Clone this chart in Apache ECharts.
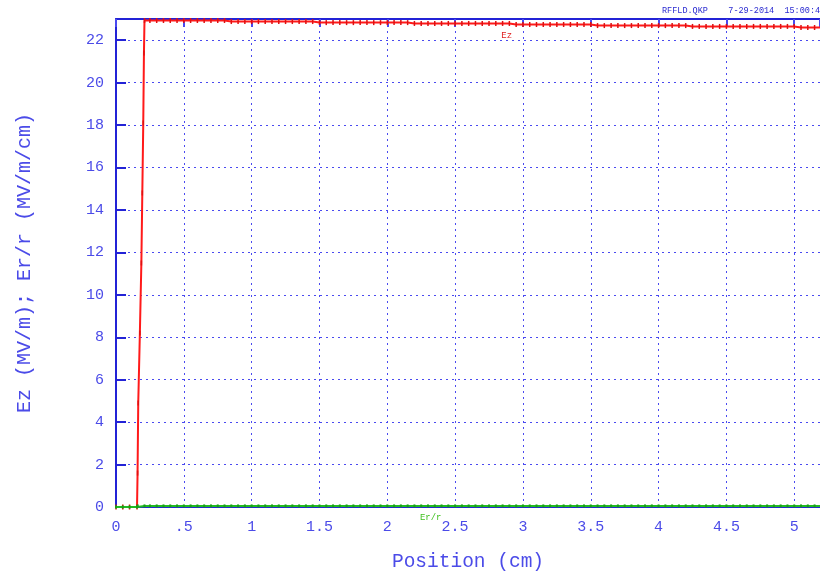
<!DOCTYPE html>
<html>
<head>
<meta charset="utf-8">
<script src="https://cdn.jsdelivr.net/npm/echarts@6/dist/echarts.min.js"></script>
<style>
  html, body { margin: 0; padding: 0; background: #fff; }
  #main { width: 820px; height: 574px; }
</style>
</head>
<body>
<div id="main"></div>
<script>
// positions (cm) where Ez was sampled
const ezPos = [
  0, 0.05, 0.1, 0.155, 0.159, 0.164, 0.176, 0.187, 0.194, 0.201, 0.206, 0.21,
  0.25, 0.3, 0.35, 0.4, 0.45, 0.5, 0.55, 0.6, 0.65, 0.7, 0.75, 0.8,
  0.85, 0.9, 0.95, 1, 1.05, 1.1, 1.15, 1.2, 1.25, 1.3, 1.35, 1.4, 1.45,
  1.5, 1.55, 1.6, 1.65, 1.7, 1.75, 1.8, 1.85, 1.9, 1.95, 2, 2.05, 2.1, 2.15,
  2.2, 2.25, 2.3, 2.35, 2.4, 2.45, 2.5, 2.55, 2.6, 2.65, 2.7, 2.75, 2.8, 2.85, 2.9,
  2.95, 3, 3.05, 3.1, 3.15, 3.2, 3.25, 3.3, 3.35, 3.4, 3.45, 3.5,
  3.55, 3.6, 3.65, 3.7, 3.75, 3.8, 3.85, 3.9, 3.95, 4, 4.05, 4.1, 4.15, 4.2,
  4.25, 4.3, 4.35, 4.4, 4.45, 4.5, 4.55, 4.6, 4.65, 4.7, 4.75, 4.8, 4.85, 4.9, 4.95, 5,
  5.05, 5.1, 5.15, 5.2
];
// Ez (MV/m)
const ezVal = [
  0, 0, 0, 0, 1.6, 4.9, 8.2, 11.5, 14.8, 18.1, 21.4, 22.93,
  22.93, 22.93, 22.93, 22.93, 22.93, 22.93, 22.93, 22.93, 22.93, 22.93, 22.93, 22.93,
  22.88, 22.88, 22.88, 22.88, 22.88, 22.88, 22.88, 22.88, 22.88, 22.88, 22.88, 22.88, 22.88,
  22.83, 22.83, 22.83, 22.83, 22.83, 22.83, 22.83, 22.83, 22.83, 22.83, 22.83, 22.83, 22.83, 22.83,
  22.79, 22.79, 22.79, 22.79, 22.79, 22.79, 22.79, 22.79, 22.79, 22.79, 22.79, 22.79, 22.79, 22.79, 22.79,
  22.74, 22.74, 22.74, 22.74, 22.74, 22.74, 22.74, 22.74, 22.74, 22.74, 22.74, 22.74,
  22.69, 22.69, 22.69, 22.69, 22.69, 22.69, 22.69, 22.69, 22.69, 22.69, 22.69, 22.69, 22.69, 22.69,
  22.65, 22.65, 22.65, 22.65, 22.65, 22.65, 22.65, 22.65, 22.65, 22.65, 22.65, 22.65, 22.65, 22.65, 22.65, 22.65,
  22.6, 22.6, 22.6, 22.6
];
// positions (cm) where Er/r was sampled
const erPos = [
  0, 0.05, 0.1, 0.155, 0.16, 0.21,
  0.25, 0.3, 0.35, 0.4, 0.45, 0.5, 0.55, 0.6, 0.65, 0.7, 0.75, 0.8,
  0.85, 0.9, 0.95, 1, 1.05, 1.1, 1.15, 1.2, 1.25, 1.3, 1.35, 1.4, 1.45,
  1.5, 1.55, 1.6, 1.65, 1.7, 1.75, 1.8, 1.85, 1.9, 1.95, 2, 2.05, 2.1, 2.15,
  2.2, 2.25, 2.3, 2.35, 2.4, 2.45, 2.5, 2.55, 2.6, 2.65, 2.7, 2.75, 2.8, 2.85, 2.9,
  2.95, 3, 3.05, 3.1, 3.15, 3.2, 3.25, 3.3, 3.35, 3.4, 3.45, 3.5,
  3.55, 3.6, 3.65, 3.7, 3.75, 3.8, 3.85, 3.9, 3.95, 4, 4.05, 4.1, 4.15, 4.2,
  4.25, 4.3, 4.35, 4.4, 4.45, 4.5, 4.55, 4.6, 4.65, 4.7, 4.75, 4.8, 4.85, 4.9, 4.95, 5,
  5.05, 5.1, 5.15, 5.2
];
// Er/r (MV/m/cm)
const erVal = [
  0, 0, 0, 0, 0.05, 0.05,
  0.05, 0.05, 0.05, 0.05, 0.05, 0.05, 0.05, 0.05, 0.05, 0.05, 0.05, 0.05,
  0.05, 0.05, 0.05, 0.05, 0.05, 0.05, 0.05, 0.05, 0.05, 0.05, 0.05, 0.05, 0.05,
  0.05, 0.05, 0.05, 0.05, 0.05, 0.05, 0.05, 0.05, 0.05, 0.05, 0.05, 0.05, 0.05, 0.05,
  0.05, 0.05, 0.05, 0.05, 0.05, 0.05, 0.05, 0.05, 0.05, 0.05, 0.05, 0.05, 0.05, 0.05, 0.05,
  0.05, 0.05, 0.05, 0.05, 0.05, 0.05, 0.05, 0.05, 0.05, 0.05, 0.05, 0.05,
  0.05, 0.05, 0.05, 0.05, 0.05, 0.05, 0.05, 0.05, 0.05, 0.05, 0.05, 0.05, 0.05, 0.05,
  0.05, 0.05, 0.05, 0.05, 0.05, 0.05, 0.05, 0.05, 0.05, 0.05, 0.05, 0.05, 0.05, 0.05, 0.05, 0.05,
  0.05, 0.05, 0.05, 0.05
];

const blue = '#2323d6';
const gridBlue = '#4a4af0';
const labelBlue = '#4b4be8';
const font = '"Liberation Mono", "DejaVu Sans Mono", monospace';

const chart = echarts.init(document.getElementById('main'));

const zip = (xs, ys) => xs.map((x, i) => [x, ys[i]]);

// small text tag sitting at a data coordinate
const tag = (coord, text, color, offset) => ({
  symbol: 'rect', symbolSize: 1,
  itemStyle: { color: 'transparent' },
  data: [{ coord: coord }],
  label: { show: true, position: 'inside', offset: offset, formatter: text, color: color, fontFamily: font, fontSize: 9 }
});

const option = {
  backgroundColor: '#fff',
  animation: false,
  grid: { left: 116, top: 19, right: 0, bottom: 67, containLabel: false, outerBoundsMode: 'none' },
  graphic: [{
    type: 'text',
    left: 662, top: 6,
    style: {
      text: 'RFFLD.QKP    7-29-2014  15:00:44',
      font: '8.5px ' + font,
      fill: '#2a2ad0'
    }
  }],
  xAxis: [{
    type: 'value', min: 0, max: 5.19, interval: 0.5,
    name: 'Position (cm)', nameLocation: 'middle', nameGap: 45,
    nameTextStyle: { color: labelBlue, fontFamily: font, fontSize: 19.5 },
    axisLine: { lineStyle: { color: blue, width: 2 } },
    axisTick: { show: false },
    axisLabel: {
      color: labelBlue, fontFamily: font, fontSize: 15, margin: 13,
      showMaxLabel: false,
      formatter: v => (v > 0 && v < 1) ? String(v).replace(/^0/, '') : String(v)
    },
    splitLine: { show: true, lineStyle: { color: gridBlue, type: [2, 4], width: 1 } }
  }, {
    type: 'value', position: 'top', min: 0, max: 5.19, interval: 0.5,
    axisLine: { show: true, lineStyle: { color: blue, width: 2 } },
    axisTick: { show: true, inside: true, length: 8, lineStyle: { color: gridBlue, width: 2 } },
    axisLabel: { show: false },
    splitLine: { show: false }
  }],
  yAxis: {
    type: 'value', min: 0, max: 23, interval: 2,
    name: 'Ez (MV/m); Er/r (MV/m/cm)', nameLocation: 'middle', nameGap: 81,
    nameTextStyle: { color: labelBlue, fontFamily: font, fontSize: 20 },
    axisLine: { show: true, lineStyle: { color: blue, width: 2 } },
    axisTick: { show: true, inside: true, length: 10, lineStyle: { color: blue, width: 2 } },
    axisLabel: { color: labelBlue, fontFamily: font, fontSize: 15, margin: 12, showMaxLabel: false },
    splitLine: { show: true, lineStyle: { color: gridBlue, type: [2, 4], width: 1 } }
  },
  series: [{
    name: 'Ez', type: 'line',
    data: zip(ezPos, ezVal),
    lineStyle: { color: '#ff1a1a', width: 2 },
    itemStyle: { color: '#e01010' },
    symbol: 'rect', symbolSize: [1.5, 5],
    markPoint: tag([2.88, 22.2], 'Ez', '#e02020', [0, 0]),
    z: 2
  }, {
    name: 'Er/r', type: 'line',
    data: zip(erPos, erVal),
    lineStyle: { color: '#22bb22', width: 2 },
    itemStyle: { color: '#16a016' },
    symbol: 'rect', symbolSize: [2, 3],
    markPoint: tag([2.32, 0], 'Er/r', '#40c020', [0, 11]),
    z: 3
  }]
};

chart.setOption(option);
</script>
</body>
</html>
